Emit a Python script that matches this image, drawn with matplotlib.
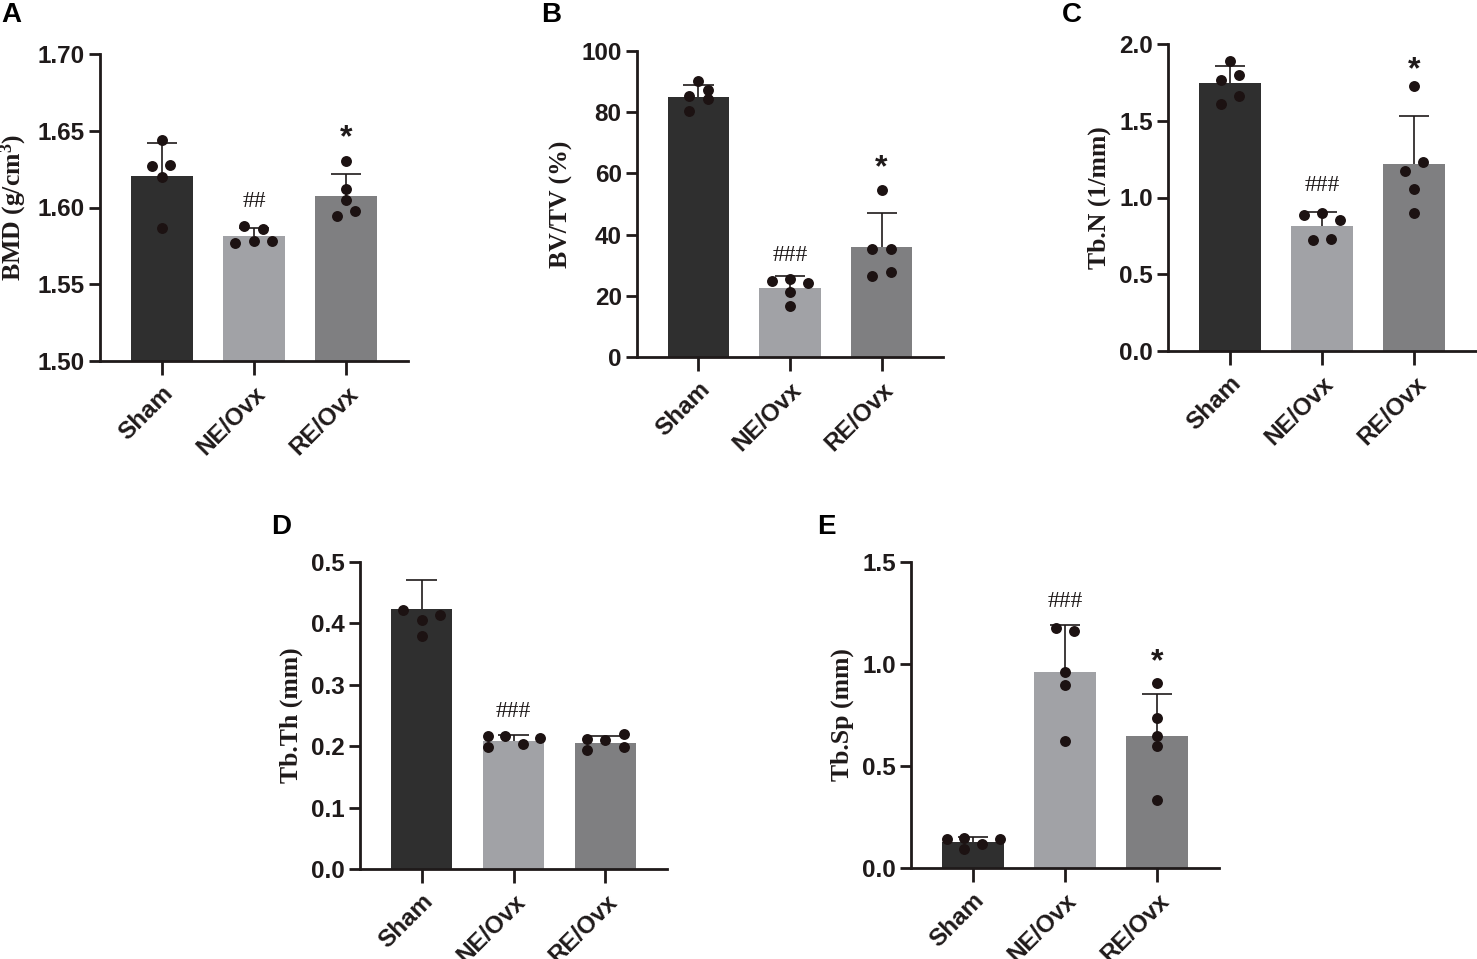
import numpy as np
import matplotlib
matplotlib.use('Agg')
import matplotlib.pyplot as plt

groups = ['Sham', 'NE/Ovx', 'RE/Ovx']
bar_colors = ['#2f2f2f', '#a1a2a6', '#7f7f81']
ink = '#1f1a1a'
dot_color = '#1c1212'

# panel A - BMD
a_mean = [1.6205, 1.5812, 1.6077]
a_sd = [0.0213, 0.0053, 0.0141]
a_pts = [[1.644, 1.627, 1.628, 1.620, 1.5865],
         [1.588, 1.586, 1.577, 1.578, 1.578],
         [1.630, 1.612, 1.605, 1.5945, 1.598]]
a_jit = [[0, -0.11, 0.09, 0, 0],
         [-0.11, 0.10, -0.21, 0, 0.20],
         [0, 0, 0, -0.10, 0.10]]

# panel B - BV/TV
b_mean = [84.97, 22.65, 35.85]
b_sd = [3.83, 3.75, 11.35]
b_pts = [[90.1, 85.3, 87.3, 84.3, 80.3],
         [24.8, 25.6, 24.2, 21.2, 16.7],
         [54.5, 35.4, 35.4, 26.4, 27.8]]
b_jit = [[0, -0.10, 0.10, 0.10, -0.10],
         [-0.20, 0, 0.20, 0, 0],
         [0, -0.10, 0.10, -0.10, 0.10]]

# panel C - Tb.N
c_mean = [1.743, 0.8136, 1.2165]
c_sd = [0.115, 0.091, 0.312]
c_pts = [[1.891, 1.767, 1.795, 1.608, 1.658],
         [0.886, 0.901, 0.853, 0.723, 0.727],
         [1.728, 1.175, 1.23, 1.054, 0.902]]
c_jit = [[0, -0.10, 0.10, -0.10, 0.10],
         [-0.20, 0, 0.20, -0.10, 0.10],
         [0, -0.10, 0.10, 0, 0]]

# panel D - Tb.Th
d_mean = [0.4234, 0.2092, 0.206]
d_sd = [0.0467, 0.0087, 0.0108]
d_pts = [[0.4212, 0.406, 0.4136, 0.380],
         [0.2158, 0.1995, 0.2174, 0.2038, 0.213],
         [0.2114, 0.194, 0.2103, 0.2196, 0.1984]]
d_jit = [[-0.20, 0, 0.20, 0],
         [-0.28, -0.28, -0.09, 0.10, 0.29],
         [-0.20, -0.20, 0, 0.20, 0.20]]

# panel E - Tb.Sp
e_mean = [0.1275, 0.9608, 0.6454]
e_sd = [0.0245, 0.232, 0.209]
e_pts = [[0.1405, 0.1487, 0.1438, 0.0948, 0.116],
         [1.178, 1.162, 0.961, 0.895, 0.621],
         [0.907, 0.735, 0.647, 0.596, 0.335]]
e_jit = [[-0.28, -0.09, 0.29, -0.09, 0.10],
         [-0.10, 0.10, 0, 0, 0],
         [0, 0, 0, 0, 0]]

# significance marks: (group index, text, y)
a_sig = [(1, '##', 1.6036), (2, '*', 1.6453)]
b_sig = [(1, '###', 33.2), (2, '*', 61.7)]
c_sig = [(1, '###', 1.081), (2, '*', 1.826)]
d_sig = [(1, '###', 0.2565)]
e_sig = [(1, '###', 1.304), (2, '*', 1.0098)]

W, H = 1477, 959
fig = plt.figure(figsize=(W / 100, H / 100), dpi=100)

def px_axes(left, top, right, bottom):
    return fig.add_axes([left / W, 1 - bottom / H, (right - left) / W, (bottom - top) / H])

sans = 'Liberation Sans'
serif = 'Liberation Serif'

def panel(ax, mean, sd, pts, jit, sig, ylim, yticks, fmt, ylabel, letter, lpos):
    x = np.arange(len(groups))
    ax.bar(x, mean, width=0.67, color=bar_colors, zorder=1)
    top = np.array(mean) + np.array(sd)
    ax.vlines(x, mean, top, color=ink, lw=1.2, zorder=2)
    ax.hlines(top, x - 0.165, x + 0.165, color=ink, lw=1.2, zorder=2)
    for i in range(len(groups)):
        ax.scatter(i + np.array(jit[i]), pts[i], s=62, color=dot_color, zorder=3, linewidths=0)
    for i, t, y in sig:
        if t == '*':
            ax.text(i, y, t, ha='center', va='center', fontsize=23, fontweight='bold', family=sans, color=ink)
        else:
            ax.text(i, y, t, ha='center', va='center', fontsize=17, family=serif, color=ink)
    ax.set_xlim(-0.67, 2.67)
    ax.set_ylim(*ylim)
    ax.set_yticks(yticks)
    ax.set_yticklabels([fmt.format(v) for v in yticks], fontsize=17.5, fontweight='bold', family=sans, color=ink)
    ax.set_xticks(x)
    ax.set_xticklabels(groups, rotation=45, ha='right', va='top', rotation_mode='anchor',
                       fontsize=17.5, fontweight='bold', family=sans, color=ink)
    for s in ['top', 'right']:
        ax.spines[s].set_visible(False)
    for s in ['left', 'bottom']:
        ax.spines[s].set_linewidth(2)
        ax.spines[s].set_color(ink)
    ax.tick_params(axis='y', length=8, width=2, color=ink, pad=3)
    ax.tick_params(axis='x', length=10, width=2, color=ink, pad=5)
    ax.set_ylabel(ylabel, fontsize=18.5, fontweight='bold', family=serif, color=ink, labelpad=6)
    fig.text(lpos[0] / W, 1 - lpos[1] / H, letter, fontsize=20, fontweight='bold', family=sans,
             ha='left', va='top', color='black')

axA = px_axes(100, 54, 408, 361)
panel(axA, a_mean, a_sd, a_pts, a_jit, a_sig, (1.50, 1.70), [1.50, 1.55, 1.60, 1.65, 1.70], '{:.2f}',
      'BMD (g/cm$\\mathregular{^3}$)', 'A', (1, 2))

axB = px_axes(637, 51, 943, 357)
panel(axB, b_mean, b_sd, b_pts, b_jit, b_sig, (0, 100), [0, 20, 40, 60, 80, 100], '{:.0f}',
      'BV/TV (%)', 'B', (541, 2))

axC = px_axes(1168, 44, 1476, 351)
panel(axC, c_mean, c_sd, c_pts, c_jit, c_sig, (0, 2.0), [0.0, 0.5, 1.0, 1.5, 2.0], '{:.1f}',
      'Tb.N (1/mm)', 'C', (1062, 2))

axD = px_axes(360, 562, 667, 869)
panel(axD, d_mean, d_sd, d_pts, d_jit, d_sig, (0, 0.5), [0.0, 0.1, 0.2, 0.3, 0.4, 0.5], '{:.1f}',
      'Tb.Th (mm)', 'D', (271, 514))

axE = px_axes(911, 562, 1219, 868)
panel(axE, e_mean, e_sd, e_pts, e_jit, e_sig, (0, 1.5), [0.0, 0.5, 1.0, 1.5], '{:.1f}',
      'Tb.Sp (mm)', 'E', (817, 514))

fig.savefig('out.png', dpi=100)
